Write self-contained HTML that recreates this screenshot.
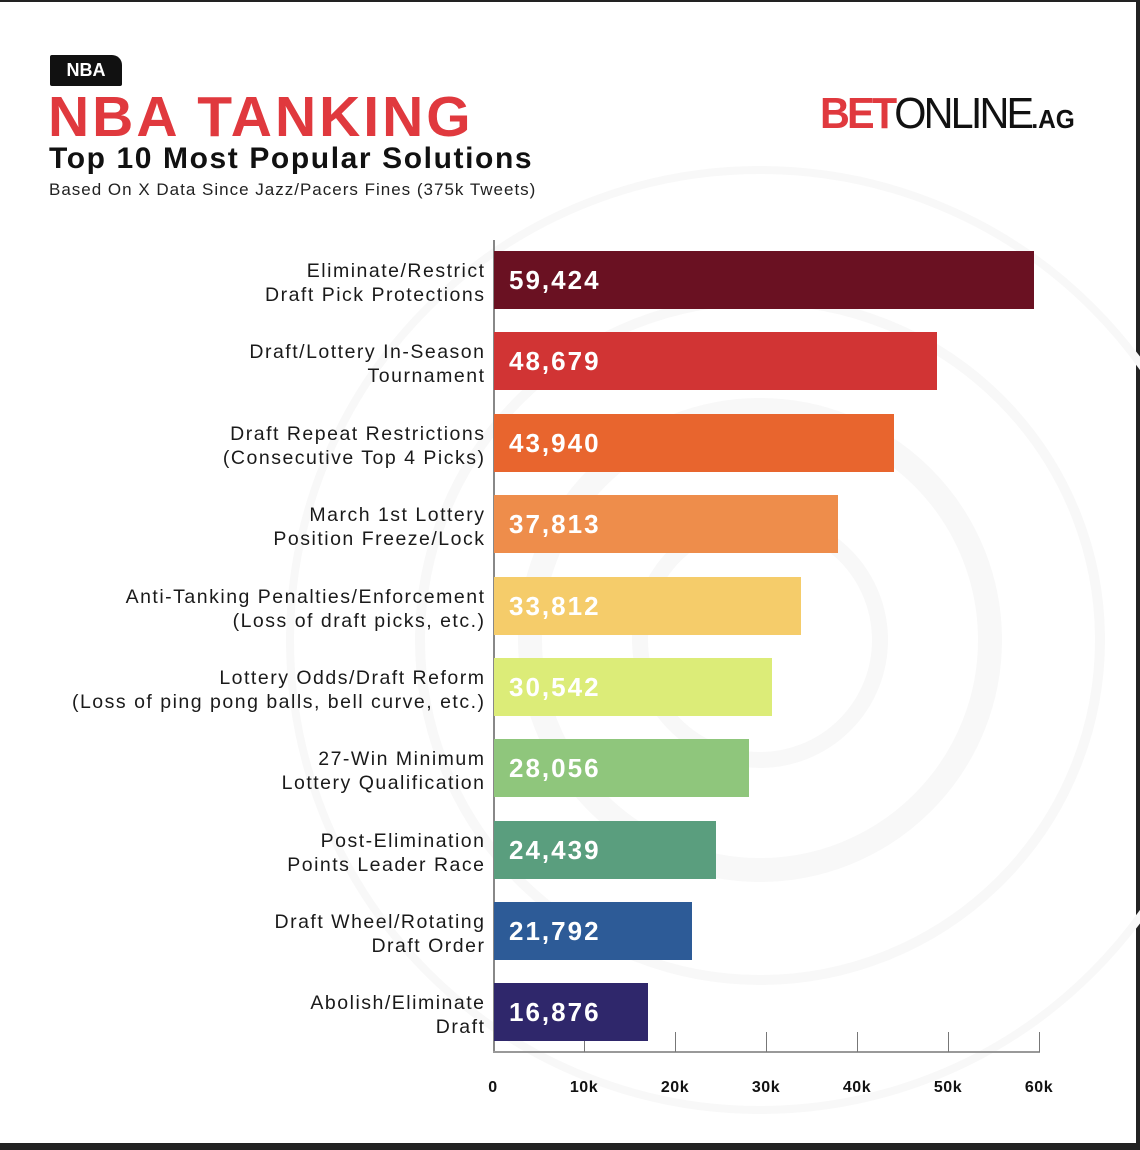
<!DOCTYPE html>
<html><head><meta charset="utf-8"><style>
*{margin:0;padding:0;box-sizing:border-box}
body{width:1140px;height:1150px;background:#fff;position:relative;overflow:hidden;font-family:"Liberation Sans",sans-serif;color:#111}
.a{position:absolute}
.lab{position:absolute;right:656px;text-align:right;font-size:19.5px;line-height:24px;color:#1a1a1a;white-space:nowrap;letter-spacing:1.5px;margin-right:-1.5px}
.bar{position:absolute;left:494px;height:58px}
.val{position:absolute;left:509px;font-size:26px;font-weight:bold;color:#fff;line-height:58px;letter-spacing:2px}
.tk{position:absolute;top:1079px;font-size:16px;font-weight:bold;width:60px;text-align:center;margin-left:-30px;color:#111;letter-spacing:0.5px}
.tick{position:absolute;top:1032px;width:1px;height:20px;background:#777}
</style></head><body>
<div class="a" style="left:0;top:0;width:1140px;height:2px;background:#222"></div>
<div class="a" style="left:1136px;top:0;width:4px;height:1150px;background:#222"></div>
<div class="a" style="left:0;top:1143px;width:1140px;height:7px;background:#222"></div>
<svg class="a" style="left:0;top:0" width="1140" height="1150">
<g fill="none" stroke="#f8f8f8">
<circle cx="760" cy="640" r="470" stroke-width="8"/>
<circle cx="760" cy="640" r="340" stroke-width="10"/>
<circle cx="760" cy="640" r="230" stroke-width="24"/>
<circle cx="760" cy="640" r="120" stroke-width="16"/>
</g></svg>
<div class="a" style="left:50px;top:55px;width:72px;height:31px;background:#111;border-radius:2px 10px 2px 2px;color:#fff;font-weight:bold;font-size:18px;line-height:31px;text-align:center">NBA</div>
<div class="a" style="left:48px;top:84px;font-size:57px;font-weight:bold;color:#e0393e;line-height:66px;letter-spacing:3px">NBA TANKING</div>
<div class="a" style="left:49px;top:141px;font-size:30px;font-weight:bold;line-height:36px;letter-spacing:1.6px">Top 10 Most Popular Solutions</div>
<div class="a" style="left:49px;top:179px;font-size:17px;line-height:22px;color:#222;letter-spacing:1px">Based On X Data Since Jazz/Pacers Fines (375k Tweets)</div>
<div class="a" style="left:820px;top:90px;font-size:44px;line-height:48px;letter-spacing:-3px;transform:scaleX(0.94);transform-origin:left"><span style="color:#e0393e;font-weight:bold">BET</span><span style="color:#111">ONLINE</span><span style="font-size:26px;font-weight:bold;letter-spacing:0">.AG</span></div>
<div class="a" style="left:493px;top:240px;width:2px;height:812px;background:#888"></div>
<div class="a" style="left:493px;top:1051px;width:547px;height:2px;background:#999"></div>
<div class="tick" style="left:584px"></div><div class="tick" style="left:675px"></div><div class="tick" style="left:766px"></div><div class="tick" style="left:857px"></div><div class="tick" style="left:948px"></div><div class="tick" style="left:1039px"></div>
<div class="tk" style="left:493px">0</div><div class="tk" style="left:584px">10k</div><div class="tk" style="left:675px">20k</div><div class="tk" style="left:766px">30k</div><div class="tk" style="left:857px">40k</div><div class="tk" style="left:948px">50k</div><div class="tk" style="left:1039px">60k</div>

<div class="bar" style="top:251px;width:540px;background:#6a1122"></div><div class="val" style="top:251px">59,424</div>
<div class="lab" style="top:259px">Eliminate/Restrict<br>Draft Pick Protections</div>
<div class="bar" style="top:332px;width:443px;background:#d13434"></div><div class="val" style="top:332px">48,679</div>
<div class="lab" style="top:340px">Draft/Lottery In-Season<br>Tournament</div>
<div class="bar" style="top:414px;width:400px;background:#e8652e"></div><div class="val" style="top:414px">43,940</div>
<div class="lab" style="top:422px">Draft Repeat Restrictions<br>(Consecutive Top 4 Picks)</div>
<div class="bar" style="top:495px;width:344px;background:#ee8d4b"></div><div class="val" style="top:495px">37,813</div>
<div class="lab" style="top:503px">March 1st Lottery<br>Position Freeze/Lock</div>
<div class="bar" style="top:577px;width:307px;background:#f5cc6a"></div><div class="val" style="top:577px">33,812</div>
<div class="lab" style="top:585px">Anti-Tanking Penalties/Enforcement<br>(Loss of draft picks, etc.)</div>
<div class="bar" style="top:658px;width:278px;background:#dcec78"></div><div class="val" style="top:658px">30,542</div>
<div class="lab" style="top:666px">Lottery Odds/Draft Reform<br>(Loss of ping pong balls, bell curve, etc.)</div>
<div class="bar" style="top:739px;width:255px;background:#8fc67c"></div><div class="val" style="top:739px">28,056</div>
<div class="lab" style="top:747px">27-Win Minimum<br>Lottery Qualification</div>
<div class="bar" style="top:821px;width:222px;background:#5a9e7e"></div><div class="val" style="top:821px">24,439</div>
<div class="lab" style="top:829px">Post-Elimination<br>Points Leader Race</div>
<div class="bar" style="top:902px;width:198px;background:#2d5b97"></div><div class="val" style="top:902px">21,792</div>
<div class="lab" style="top:910px">Draft Wheel/Rotating<br>Draft Order</div>
<div class="bar" style="top:983px;width:154px;background:#2f276b"></div><div class="val" style="top:983px">16,876</div>
<div class="lab" style="top:991px">Abolish/Eliminate<br>Draft</div>
</body></html>
